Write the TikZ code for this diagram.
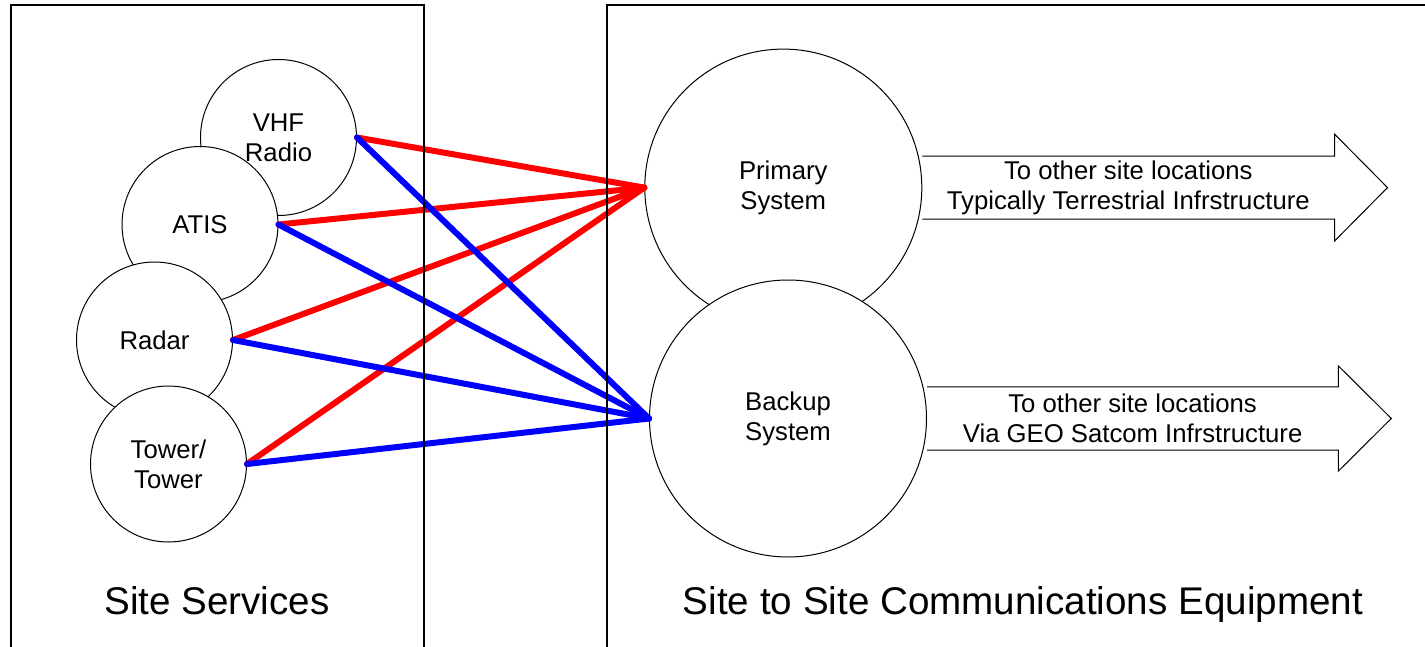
\documentclass[tikz,border=0pt]{standalone}
\usepackage{fontspec}
\setmainfont{Liberation Sans}
\usetikzlibrary{calc}

\begin{document}
\begin{tikzpicture}[
  x=0.5pt, y=-0.5pt,
  service/.style={circle, draw, fill=white, line width=0.5pt, minimum size=78pt,
                  inner sep=0pt, align=center, font=\fontsize{12.85}{15}\selectfont},
  system/.style={service, minimum size=138.5pt},
  region/.style={draw, line width=1pt},
  title/.style={anchor=base, font=\fontsize{19.3}{23}\selectfont},
  primlink/.style={draw=red, line width=3pt, line cap=round},
  backlink/.style={draw=blue, line width=3pt, line cap=round},
  outline/.style={draw, line width=0.5pt},
  outlbl/.style={align=center, font=\fontsize{12.85}{15}\selectfont},
]
\useasboundingbox (0,0) rectangle (1425,647);
\clip (0,0) rectangle (1425,647);

% --- Site services ---
\node[service] (vhf)   at (278.5,137.5) {VHF\\Radio};
\node[service] (atis)  at (200,224.5)   {ATIS};
\node[service] (radar) at (154.5,340)   {Radar};
\node[service] (tower) at (168.5,464)   {Tower/\\Tower};

% --- Communications systems ---
\node[system] (prim) at (783.3,187.6) {Primary\\System};
\node[system] (back) at (788,418.5)   {Backup\\System};

% --- Links to primary system ---
\foreach \src in {vhf, atis, radar, tower}
  \draw[primlink] (\src.east) -- (prim.west);

% --- Links to backup system ---
\foreach \src in {vhf, atis, radar, tower}
  \draw[backlink] (\src.east) -- (back.west);

% --- Region frames ---
\draw[region] (10.5,700) |- (424,5.5) -- (424,700);
\draw[region] (607,700) |- (1439,5.5) -- (1439,700);

% --- Outgoing block arrows ---
\draw[outline] ($(prim.east)+(0,-31.5)$) -- ++(412.2,0) -- ++(0,-22) -- ++(53,53.5)
  -- ++(-53,53.5) -- ++(0,-22) -- ($(prim.east)+(0,31.5)$);
\node[outlbl] (primout) at ($(prim.east)+(206,0)$)
  {To other site locations\\Typically Terrestrial Infrstructure};

\draw[outline] ($(back.east)+(0,-31.7)$) -- ++(411.3,0) -- ++(0,-21) -- ++(53,52.7)
  -- ++(-53,52.7) -- ++(0,-21) -- ($(back.east)+(0,31.7)$);
\node[outlbl] (backout) at ($(back.east)+(205.6,0)$)
  {To other site locations\\Via GEO Satcom Infrstructure};

% --- Region titles ---
\node[title] (svclbl) at (217,614)  {Site Services};
\node[title] (comlbl) at (1023,614) {Site to Site Communications Equipment};

\end{tikzpicture}
\end{document}
